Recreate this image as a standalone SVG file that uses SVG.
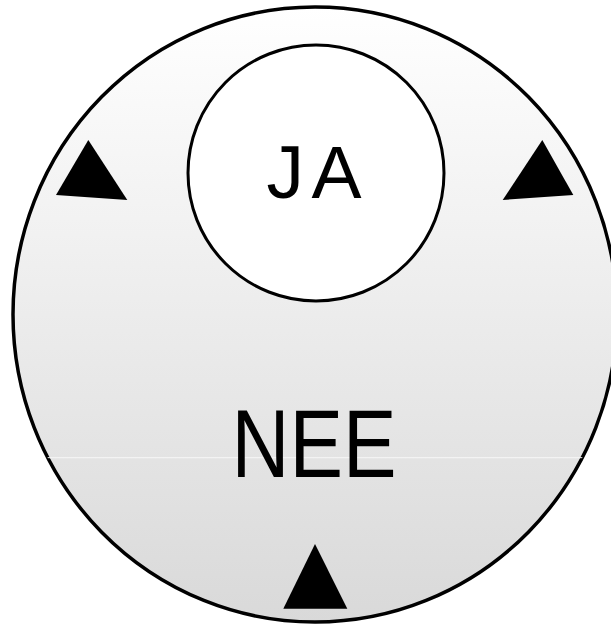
<svg xmlns="http://www.w3.org/2000/svg" width="611" height="626" viewBox="0 0 611 626">
  <defs>
    <linearGradient id="outerFill" gradientUnits="userSpaceOnUse" x1="0" y1="7" x2="0" y2="622">
      <stop offset="0" stop-color="#ffffff"/>
      <stop offset="1" stop-color="#d9d9d9"/>
    </linearGradient>
    <clipPath id="outerClip">
      <ellipse cx="315" cy="314.5" rx="302" ry="307.5"/>
    </clipPath>
  </defs>
  <style>
    .shape { stroke: #000000; }
    .tri { fill: #000000; stroke: none; }
    .label { font-family: "Liberation Sans", Arial, sans-serif; fill: #000000; text-anchor: middle; }
  </style>
  <rect x="0" y="0" width="611" height="626" fill="#ffffff"/>

  <g id="node-nee">
    <ellipse class="shape" cx="315" cy="314.5" rx="302" ry="307.5" fill="url(#outerFill)" stroke-width="3.5"/>
    <line x1="0" y1="457.7" x2="611" y2="457.7" stroke="#f7f7f7" stroke-width="1" clip-path="url(#outerClip)"/>
    <text class="label" x="314" y="477" font-size="96" textLength="165" lengthAdjust="spacingAndGlyphs">NEE</text>
  </g>

  <g id="node-ja">
    <circle class="shape" cx="316" cy="173" r="128" fill="#ffffff" stroke-width="3"/>
    <text class="label" x="314" y="198" font-size="75" textLength="95" lengthAdjust="spacing">JA</text>
  </g>

  <g id="markers">
    <polygon class="tri" points="88.3,140 56,195 127.3,200"/>
    <polygon class="tri" points="542.3,140 502.7,200 573.3,195"/>
    <polygon class="tri" points="315,544 283.3,608.7 347.3,608.7"/>
  </g>
</svg>
